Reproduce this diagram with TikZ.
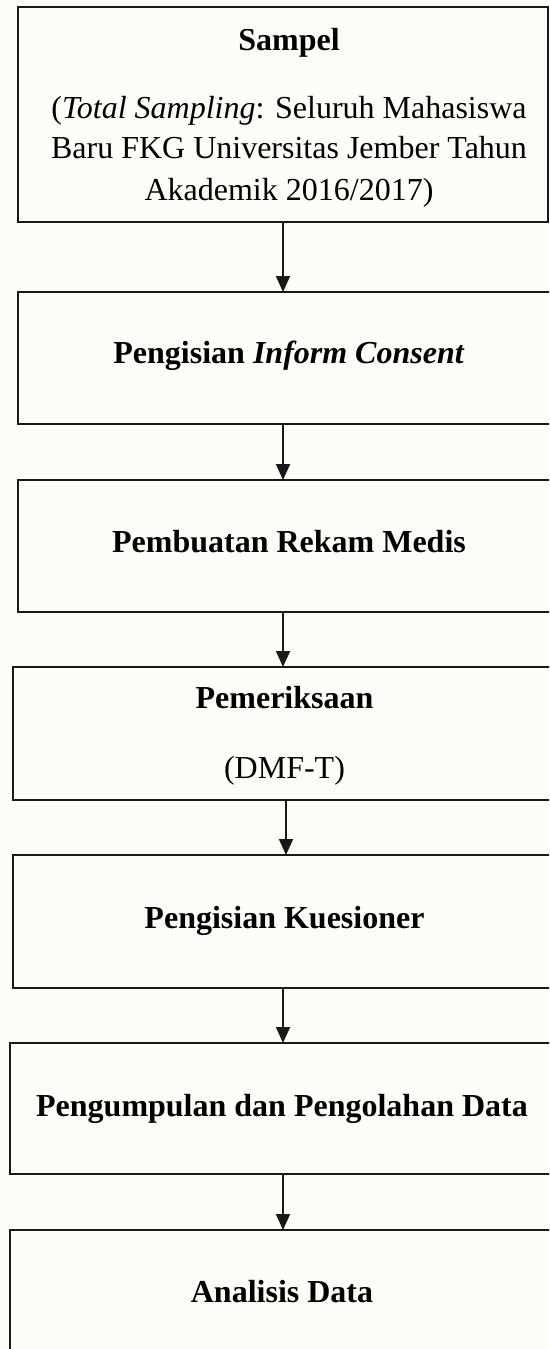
\documentclass[tikz,border=0pt]{standalone}
\usepackage{fontspec}
\setmainfont{Liberation Serif}
\usetikzlibrary{arrows.meta}
\definecolor{bgc}{RGB}{253,253,247}
\begin{document}
\begin{tikzpicture}[x=1pt,y=-1pt,
 box/.style={draw=black!90,line width=1.8pt,fill=bgc,inner sep=0pt,outer sep=0pt,anchor=north west},
 lbl/.style={anchor=base,inner sep=0pt,font=\fontsize{32}{40}\selectfont},
 arr/.style={draw=black!90,line width=1.8pt,-{Triangle[width=14pt,length=16pt]}}]
\fill[bgc] (0,0) rectangle (549,1349);
\useasboundingbox (0,0) rectangle (549,1349);
\clip (0,0) rectangle (549,1349);
\coordinate (ax) at (283,0);
\coordinate (ay) at (286,0);
\node[box,minimum width=530pt,minimum height=215pt] (b1) at (18,7) {};
\node[box,minimum width=560pt,minimum height=132pt] (b2) at (18,292) {};
\node[box,minimum width=560pt,minimum height=132pt] (b3) at (18,480) {};
\node[box,minimum width=560pt,minimum height=133pt] (b4) at (13,667) {};
\node[box,minimum width=560pt,minimum height=133pt] (b5) at (13,855) {};
\node[box,minimum width=560pt,minimum height=131pt] (b6) at (10,1043) {};
\node[box,minimum width=560pt,minimum height=200pt] (b7) at (10,1230) {};
\node[lbl] (t1) at (289,50) {\textbf{Sampel}};
\node[lbl] (t2) at (289,118) {(\textit{Total Sampling}: Seluruh Mahasiswa};
\node[lbl] (t3) at (289,158) {Baru FKG Universitas Jember Tahun};
\node[lbl] (t4) at (289,200) {Akademik 2016/2017)};
\node[lbl] (t5) at (289,363) {\textbf{Pengisian \textit{Inform Consent}}};
\node[lbl] (t6) at (289,552) {\textbf{Pembuatan Rekam Medis}};
\node[lbl] (t7) at (284.5,708) {\textbf{Pemeriksaan}};
\node[lbl] (t8) at (284.5,778) {(DMF-T)};
\node[lbl] (t9) at (284.5,928) {\textbf{Pengisian Kuesioner}};
\node[lbl] (t10) at (282,1116) {\textbf{Pengumpulan dan Pengolahan Data}};
\node[lbl] (t11) at (282,1302) {\textbf{Analisis Data}};
\draw[arr] (b1.south -| ax) -- (b2.north -| ax);
\draw[arr] (b2.south -| ax) -- (b3.north -| ax);
\draw[arr] (b3.south -| ax) -- (b4.north -| ax);
\draw[arr] (b4.south -| ay) -- (b5.north -| ay);
\draw[arr] (b5.south -| ax) -- (b6.north -| ax);
\draw[arr] (b6.south -| ax) -- (b7.north -| ax);
\end{tikzpicture}
\end{document}
